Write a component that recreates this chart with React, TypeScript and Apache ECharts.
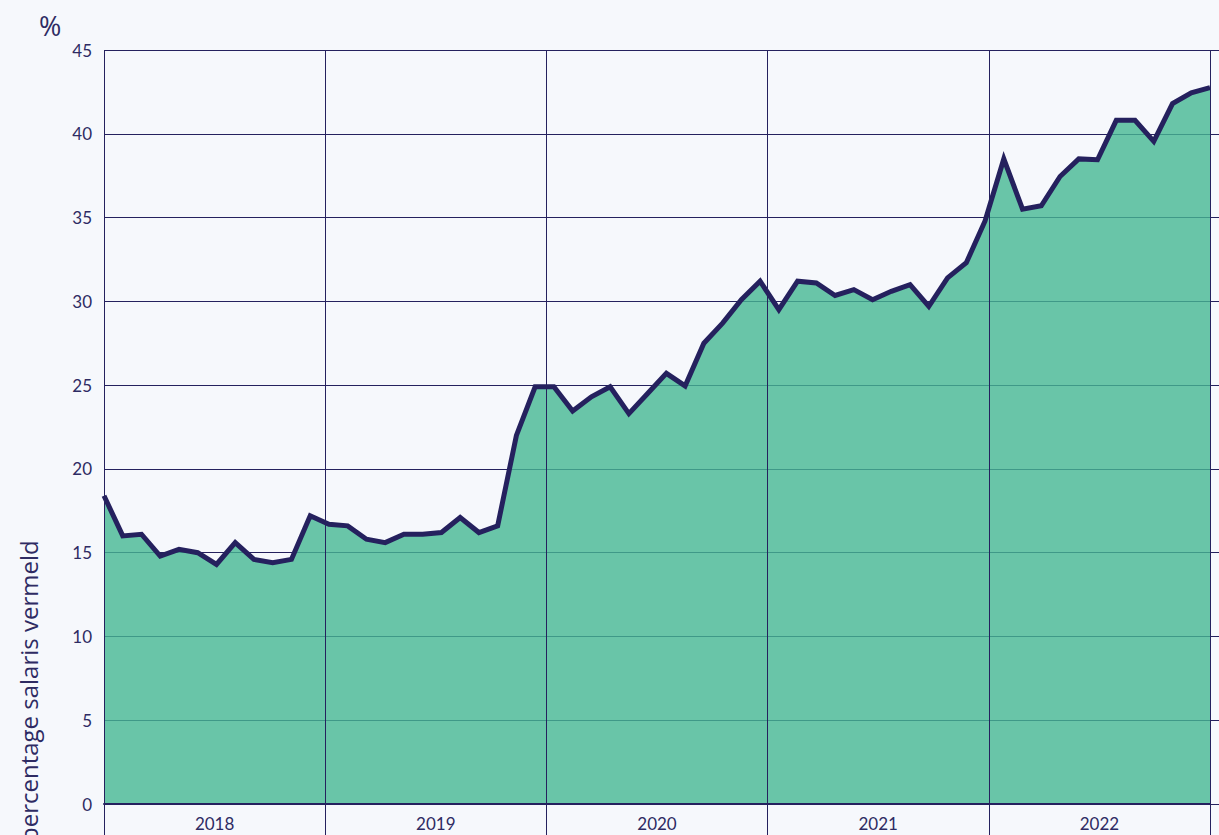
import React, { useEffect, useRef } from "react";
import * as echarts from "echarts";

const years = ["2018", "2019", "2020", "2021", "2022"];
const months: string[] = [];
years.forEach((y) => {
  for (let m = 1; m <= 12; m++) months.push(`${y}-${m < 10 ? "0" + m : m}`);
});
const values2018 = [18.4, 16.0, 16.1, 14.8, 15.2, 15.0, 14.3, 15.6, 14.6, 14.4, 14.6, 17.2];
const values2019 = [16.7, 16.6, 15.8, 15.6, 16.1, 16.1, 16.2, 17.1, 16.2, 16.6, 22.0, 24.9];
const values2020 = [24.9, 23.45, 24.3, 24.9, 23.3, 24.5, 25.7, 24.95, 27.5, 28.7, 30.1, 31.2];
const values2021 = [29.5, 31.2, 31.1, 30.35, 30.7, 30.1, 30.6, 31.0, 29.7, 31.4, 32.3, 34.8];
const values2022 = [38.5, 35.5, 35.7, 37.45, 38.5, 38.45, 40.8, 40.8, 39.55, 41.8, 42.45, 42.75];
const values = [...values2018, ...values2019, ...values2020, ...values2021, ...values2022];

const NAVY = "#25215e";
const TEXT = "#2e2b63";
const FONT = "Lato, 'Noto Sans', sans-serif";
const NAME_FONT = "'Open Sans', 'Noto Sans', sans-serif";

export default function App() {
  const ref = useRef<HTMLDivElement>(null);
  useEffect(() => {
    if (!ref.current) return;
    const chart = echarts.init(ref.current, undefined, { renderer: "svg" });
    chart.setOption({
      animation: false,
      backgroundColor: "#f6f8fc",
      textStyle: { fontFamily: FONT },
      grid: { left: 104, right: 9, top: 50, bottom: 31 },
      graphic: [
        {
          type: "text",
          left: 39,
          top: 12,
          style: { text: "%", fontSize: 27, fill: TEXT, fontFamily: NAME_FONT },
        },
        {
          type: "text",
          x: 28,
          y: 842,
          rotation: Math.PI / 2,
          style: {
            text: "percentage salaris vermeld",
            fontSize: 24,
            fill: TEXT,
            fontFamily: NAME_FONT,
            align: "left",
            verticalAlign: "middle",
          },
        },
      ],
      xAxis: [
        {
          type: "category",
          data: years,
          position: "bottom",
          boundaryGap: true,
          z: 5,
          axisLine: { show: true, lineStyle: { color: NAVY, width: 2 } },
          axisTick: { show: true, length: 31, lineStyle: { color: NAVY, width: 1 } },
          axisLabel: { color: TEXT, fontSize: 17, margin: 11, fontFamily: FONT },
          splitLine: { show: true, lineStyle: { color: NAVY, width: 1 } },
        },
        {
          type: "category",
          data: years,
          position: "top",
          boundaryGap: true,
          z: 5,
          axisLine: { show: false },
          axisTick: { show: true, length: 15, lineStyle: { color: NAVY, width: 1 } },
          axisLabel: { show: false },
          splitLine: { show: false },
        },
        {
          type: "category",
          data: months,
          boundaryGap: false,
          show: false,
        },
      ],
      yAxis: [
        {
          type: "value",
          min: 0,
          max: 45,
          interval: 5,
          position: "left",
          axisLine: { show: false },
          axisTick: { show: false },
          axisLabel: { color: TEXT, fontSize: 17, margin: 12, fontFamily: FONT },
          splitLine: { show: true, lineStyle: { color: NAVY, width: 1 } },
        },
        {
          type: "value",
          min: 0,
          max: 45,
          interval: 5,
          position: "right",
          axisLine: { show: false },
          axisTick: { show: true, inside: false, length: 9, lineStyle: { color: NAVY, width: 1 } },
          axisLabel: { show: false },
          splitLine: { show: false },
        },
      ],
      series: [
        {
          type: "line",
          xAxisIndex: 2,
          yAxisIndex: 0,
          data: values,
          symbol: "none",
          lineStyle: { color: NAVY, width: 5, join: "miter" },
          areaStyle: { color: "#46b892", opacity: 0.8 },
          z: 2,
        },
      ],
    });
    return () => chart.dispose();
  }, []);
  return <div ref={ref} style={{ width: 1219, height: 835, position: "absolute", left: 0, top: 0 }} />;
}
